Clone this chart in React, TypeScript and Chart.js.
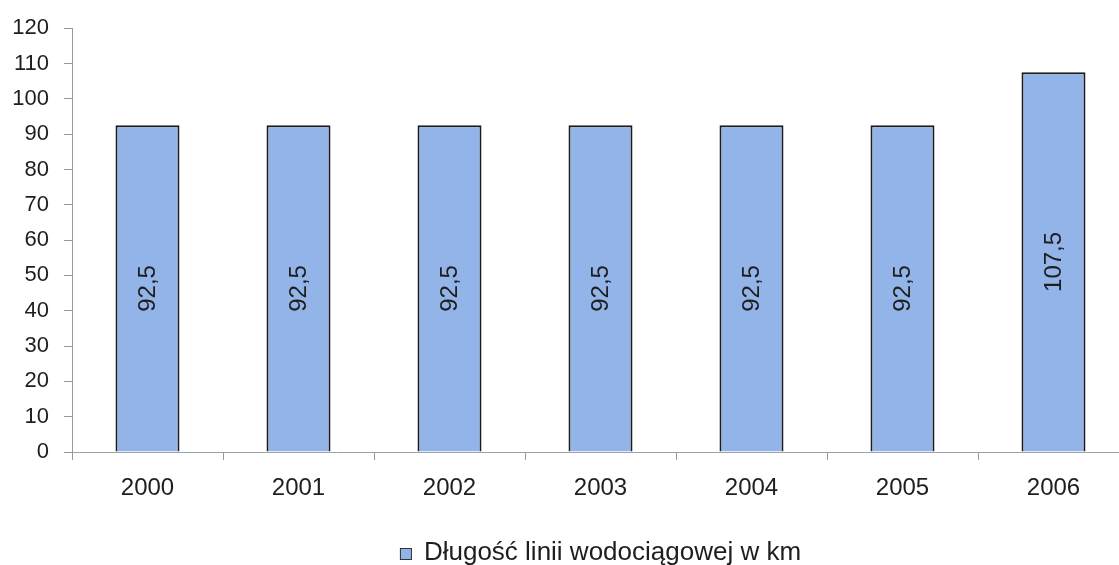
import React, { useEffect, useRef } from "react";
import { Chart, registerables } from "chart.js";

Chart.register(...registerables);

const categories = ["2000", "2001", "2002", "2003", "2004", "2005", "2006"];
const values = [92.5, 92.5, 92.5, 92.5, 92.5, 92.5, 107.5];
const seriesLabel = "Długość linii wodociągowej w km";

const FONT = "'Liberation Sans', Arial, sans-serif";
const BAR_FILL = "#93B4E8";
const TEXT = "#1e1e1e";

const valueLabels = {
  id: "valueLabels",
  afterDatasetsDraw(chart: any) {
    const ctx = chart.ctx;
    const meta = chart.getDatasetMeta(0);
    ctx.save();
    ctx.fillStyle = TEXT;
    ctx.font = `24px ${FONT}`;
    ctx.textAlign = "center";
    ctx.textBaseline = "middle";
    meta.data.forEach((bar: any, i: number) => {
      const v = values[i];
      const y = (bar.y + bar.base) / 2;
      ctx.save();
      ctx.translate(bar.x + 1, y);
      ctx.rotate(-Math.PI / 2);
      ctx.fillText(String(v).replace(".", ","), 0, 0);
      ctx.restore();
    });
    ctx.restore();
  },
};

const customLegend = {
  id: "customLegend",
  afterDraw(chart: any) {
    const ctx = chart.ctx;
    const area = chart.chartArea;
    ctx.save();
    ctx.font = `26px ${FONT}`;
    const textW = ctx.measureText(seriesLabel).width;
    const box = 12;
    const gap = 12;
    const total = box + gap + textW;
    const cx = (area.left + area.right) / 2;
    const cy = area.bottom + 101;
    const x0 = cx - total / 2;
    ctx.fillStyle = BAR_FILL;
    ctx.fillRect(x0, cy - box / 2 + 1, box, box);
    ctx.strokeStyle = "#333";
    ctx.lineWidth = 1;
    ctx.strokeRect(x0 + 0.5, cy - box / 2 + 1.5, box - 1, box - 1);
    ctx.fillStyle = TEXT;
    ctx.textAlign = "left";
    ctx.textBaseline = "middle";
    ctx.fillText(seriesLabel, x0 + box + gap, cy);
    ctx.restore();
  },
};

export default function App() {
  const ref = useRef<HTMLCanvasElement>(null);
  useEffect(() => {
    const chart = new Chart(ref.current!, {
      type: "bar",
      data: {
        labels: categories,
        datasets: [
          {
            label: seriesLabel,
            data: values,
            backgroundColor: BAR_FILL,
            borderColor: "#1c1c1c",
            borderWidth: 2,
            barPercentage: 0.424,
            categoryPercentage: 1,
          },
        ],
      },
      options: {
        animation: false,
        responsive: false,
        maintainAspectRatio: false,
        layout: { padding: { top: 27, right: 1, left: 0, bottom: 43 } },
        plugins: {
          tooltip: { enabled: false },
          legend: { display: false },
        },
        scales: {
          x: {
            grid: {
              drawOnChartArea: false,
              drawTicks: true,
              tickLength: 8,
              color: "#999",
              offset: true,
            },
            border: { color: "#9aa3ad", width: 1 },
            ticks: {
              color: TEXT,
              font: { family: FONT, size: 24 },
              padding: 14,
            },
            afterFit: (s: any) => {
              s.height = 70;
            },
          },
          y: {
            min: 0,
            max: 120,
            grid: {
              drawOnChartArea: false,
              drawTicks: true,
              tickLength: 8,
              color: "#999",
            },
            border: { color: "#999", width: 1 },
            ticks: {
              stepSize: 10,
              color: TEXT,
              font: { family: FONT, size: 22 },
              padding: 15,
            },
            afterFit: (s: any) => {
              s.width = 72;
            },
          },
        },
      },
      plugins: [valueLabels, customLegend],
    });
    return () => chart.destroy();
  }, []);
  return (
    <div style={{ position: "fixed", left: 0, top: 0, width: 1130, height: 565, background: "#fff" }}>
      <canvas ref={ref} width={1130} height={565} style={{ display: "block" }} />
    </div>
  );
}
